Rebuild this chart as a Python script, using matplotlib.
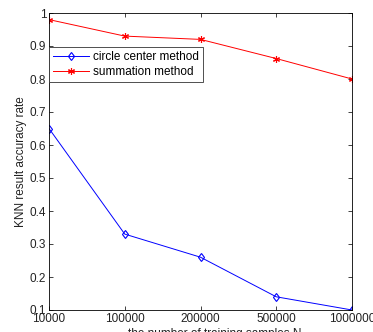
import matplotlib
matplotlib.use("Agg")
import matplotlib.pyplot as plt

plt.rcParams['font.family'] = ['Liberation Sans', 'DejaVu Sans']

x_labels = ["10000", "100000", "200000", "500000", "1000000"]
circle_center = [0.65, 0.33, 0.26, 0.14, 0.10]
summation = [0.98, 0.93, 0.92, 0.862, 0.80]

fig = plt.figure(figsize=(3.73, 3.32), dpi=100)
W, H = 373, 332
ax = fig.add_axes([49 / W, 1 - 310 / H, (352 - 49) / W, (310 - 13) / H])

xs = list(range(len(x_labels)))
ax.plot(xs, circle_center, color='#0000ff', lw=0.7, marker='d', markersize=4.5,
        markerfacecolor='none', markeredgecolor='#0000ff', markeredgewidth=0.8,
        label='circle center method')
ax.plot(xs, summation, color='#ff0000', lw=0.7, marker=(6, 2, 0), markersize=5,
        markerfacecolor='#ff0000', markeredgecolor='#ff0000', markeredgewidth=0.8,
        label='summation method')

ax.set_xlim(0, len(x_labels) - 1)
ax.set_ylim(0.1, 1.0)
ax.set_xticks(xs)
ax.set_xticklabels(x_labels)
ax.set_yticks([0.1, 0.2, 0.3, 0.4, 0.5, 0.6, 0.7, 0.8, 0.9, 1.0])
ax.set_yticklabels(["0.1", "0.2", "0.3", "0.4", "0.5", "0.6", "0.7", "0.8", "0.9", "1"])
ax.tick_params(direction='in', top=True, right=True, labelsize=8.5, length=3,
               width=0.6, colors='#222222', pad=2)
for s in ax.spines.values():
    s.set_linewidth(0.6)
ax.set_ylabel('KNN result accuracy rate', fontsize=8.5, labelpad=2, color='#222222')

leg = ax.legend(loc='upper left', bbox_to_anchor=(0.0, 0.886), fontsize=8.5,
                frameon=True, fancybox=False, edgecolor='#333333', framealpha=1,
                borderpad=0.35, handlelength=3.0, handletextpad=0.4, labelspacing=0.25,
                borderaxespad=0)
leg.get_frame().set_linewidth(0.6)

fig.text(215 / W, 3.5 / H, 'the number of training samples N', fontsize=8.5,
         ha='center', va='top', color='#222222')

fig.savefig('out.png', dpi=100)
